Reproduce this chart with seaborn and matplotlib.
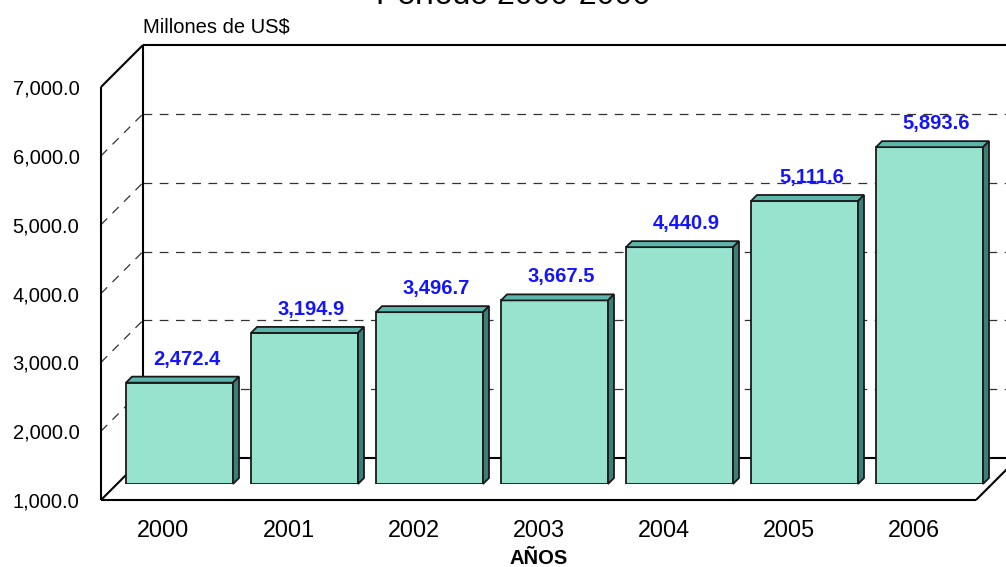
import matplotlib
matplotlib.use("Agg")
import matplotlib.pyplot as plt
import pandas as pd
import seaborn as sns
from matplotlib.patches import Polygon

# Exports by year (millions of US$)
years = ["2000", "2001", "2002", "2003", "2004", "2005", "2006"]
values = [2472.4, 3194.9, 3496.7, 3667.5, 4440.9, 5111.6, 5893.6]
y_ticks = [1000, 2000, 3000, 4000, 5000, 6000, 7000]
title_text = "Período 2000-2006"
unit_text = "Millones de US$"
x_title = "AÑOS"

sns.set_theme(style="white")
plt.rcParams["font.family"] = ["Liberation Sans", "DejaVu Sans"]

W, H = 1006, 567
DPI = 100
fig = plt.figure(figsize=(W / DPI, H / DPI), dpi=DPI)
fig.patch.set_facecolor("white")

# Front plane of the pseudo-3D box, in pixels from the top-left corner
fl, fr, fb, ft = 101, 976, 500, 87
bar_depth_px = 16      # distance of the bar fronts behind the front plane
bar_thick_px = 6       # thickness of each bar
wall_depth_px = 42     # depth of the floor / side wall


def frac_rect(l, r, b, t, shift=0):
    return [(l + shift) / W, (H - b + shift) / H, (r - l) / W, (b - t) / H]


ax = fig.add_axes(frac_rect(fl, fr, fb, ft))
axb = fig.add_axes(frac_rect(fl, fr, fb, ft, shift=bar_depth_px), zorder=2)
for a in (ax, axb):
    a.set_xlim(-0.5, len(years) - 0.5)
    a.set_ylim(y_ticks[0], y_ticks[-1])
    a.patch.set_alpha(0)
    for s in a.spines.values():
        s.set_visible(False)

# pixel -> data conversion factors (same scale for both planes)
px_x = (len(years)) / (fr - fl)
px_y = (y_ticks[-1] - y_ticks[0]) / (fb - ft)

df = pd.DataFrame({"year": years, "value": values})
face = "#97E3CE"
top_col = "#5DB6AC"
side_col = "#3D7E78"
bw = 107 * px_x

sns.barplot(data=df, x="year", y="value", ax=axb, color=face, width=bw,
            edgecolor="#1a1a1a", linewidth=1.3, saturation=1, zorder=3)
axb.set_xlim(-0.5, len(years) - 0.5)
axb.set_ylim(y_ticks[0], y_ticks[-1])
axb.axis("off")

dx, dy = bar_thick_px * px_x, bar_thick_px * px_y
base = y_ticks[0]
for patch, v in zip(axb.patches, values):
    patch.set_y(base)
    patch.set_height(v - base)
    x0 = patch.get_x()
    x1 = x0 + patch.get_width()
    top = Polygon([(x0, v), (x1, v), (x1 + dx, v + dy), (x0 + dx, v + dy)],
                  closed=True, facecolor=top_col, edgecolor="#1a1a1a",
                  linewidth=1.3, zorder=3, clip_on=False)
    side = Polygon([(x1, base), (x1 + dx, base + dy), (x1 + dx, v + dy), (x1, v)],
                   closed=True, facecolor=side_col, edgecolor="#1a1a1a",
                   linewidth=1.3, zorder=3, clip_on=False)
    axb.add_patch(top)
    axb.add_patch(side)
    axb.annotate(f"{v:,.1f}", xy=((x0 + x1) / 2, v), xytext=(7, 18),
                 textcoords="offset pixels", ha="center", va="baseline",
                 color="#1414FF", fontsize=14.5, fontweight="bold",
                 annotation_clip=False)

# Walls and floor drawn on the front plane
wx, wy = wall_depth_px * px_x, wall_depth_px * px_y
xl, xr = -0.5, len(years) - 0.5
ymin, ymax = y_ticks[0], y_ticks[-1]
solid = dict(color="black", linewidth=1.5, solid_capstyle="butt", clip_on=False)
dash = dict(color="#333333", linewidth=0.9, linestyle=(0, (7, 6)), clip_on=False)

for v in y_ticks[1:-1]:
    ax.plot([xl + wx, xr + wx], [v + wy, v + wy], **dash)
    ax.plot([xl, xl + wx], [v, v + wy], **dash)
# back wall outline
ax.plot([xl + wx, xl + wx], [ymin + wy, ymax + wy], **solid)
ax.plot([xl + wx, xr + wx], [ymax + wy, ymax + wy], **solid)
ax.plot([xl + wx, xr + wx], [ymin + wy, ymin + wy], **solid)
# side wall and floor edges
ax.plot([xl, xl], [ymin, ymax], **solid)
ax.plot([xl, xl + wx], [ymax, ymax + wy], **solid)
ax.plot([xl, xl + wx], [ymin, ymin + wy], **solid)
ax.plot([xl, xr], [ymin, ymin], **solid)
ax.plot([xr, xr + wx], [ymin, ymin + wy], **solid)

ax.set_yticks(y_ticks)
ax.set_yticklabels([f"{t:,.1f}" for t in y_ticks], fontsize=14.5)
ax.set_xticks(range(len(years)))
ax.set_xticklabels(years, fontsize=16.8)
ax.tick_params(axis="y", length=0, pad=15.5, colors="black")
ax.tick_params(axis="x", length=0, pad=14, colors="black")
ax.set_xlabel(x_title, fontsize=14.5, fontweight="bold", labelpad=5, color="black")

fig.text(143 / W, (H - 33) / H, unit_text, fontsize=14.5, ha="left",
         va="baseline", color="black")
fig.text(513 / W, (H - 4) / H, title_text, fontsize=23, ha="center",
         va="baseline", color="black")

fig.savefig("out.png", dpi=DPI, facecolor="white")
